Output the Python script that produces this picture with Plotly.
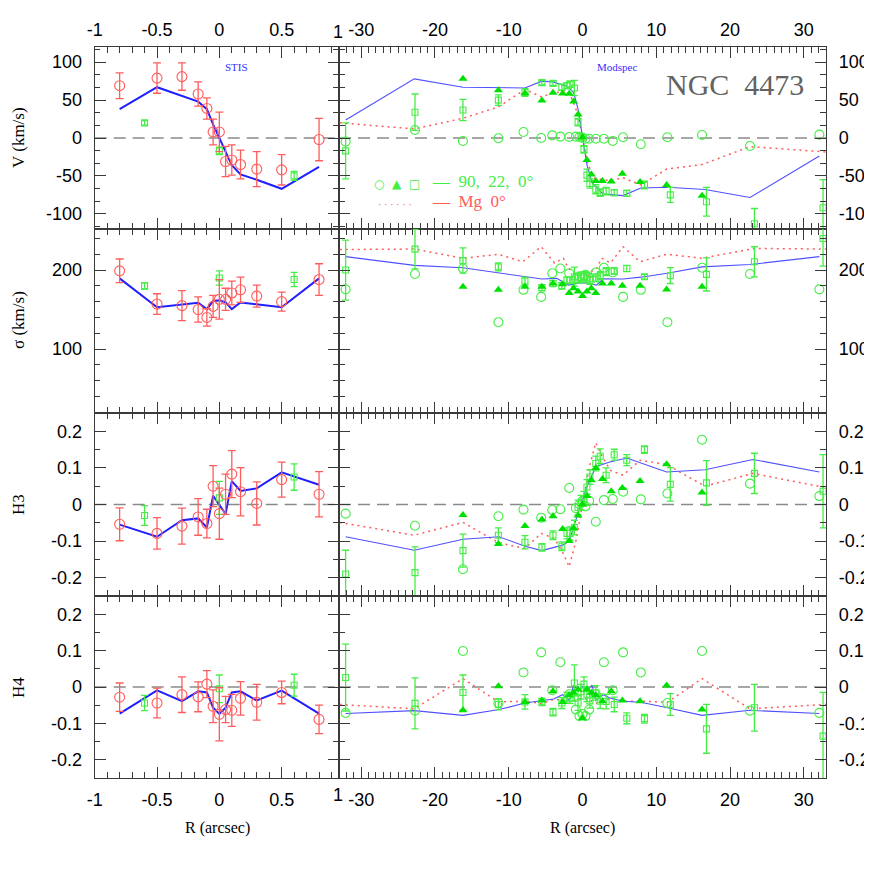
import plotly.graph_objects as go

# ---------------- STIS data (left panels) ----------------
stis_r = [-0.8, -0.5, -0.3, -0.17, -0.1, -0.05, 0.0, 0.05, 0.1, 0.17, 0.3, 0.5, 0.8]
stis_v = [69, 79, 81, 58, 39, 8, 8, -31, -29, -35, -41, -42, -2]
stis_v_err = [17, 20, 18, 16, 14, 17, 26, 20, 20, 19, 23, 20, 28]
stis_s = [199, 157, 155, 150, 140, 154, 163, 163, 171, 175, 167, 160, 188]
stis_s_err = [15, 13, 19, 16, 11, 14, 25, 14, 15, 16, 14, 12, 20]
stis_h3 = [-0.054, -0.079, -0.059, -0.034, -0.052, 0.050, -0.025, 0.028, 0.083, 0.035, 0.003, 0.068, 0.028]
stis_h3_err = [0.045, 0.043, 0.049, 0.050, 0.039, 0.056, 0.070, 0.055, 0.064, 0.066, 0.059, 0.048, 0.062]
stis_h4 = [-0.028, -0.044, -0.021, -0.027, 0.008, -0.053, -0.075, -0.062, -0.064, -0.031, -0.042, -0.015, -0.089]
stis_h4_err = [0.039, 0.041, 0.049, 0.041, 0.037, 0.045, 0.073, 0.036, 0.044, 0.046, 0.049, 0.031, 0.039]

# ground-based points inside the STIS window
gb_r = [-0.6, 0.0, 0.6]
gb_v = [20, -17, -50]
gb_v_err = [3, 5, 6]
gb_s = [180, 190, 188]
gb_s_err = [4, 9, 9]
gb_h3 = [-0.030, 0.018, 0.075]
gb_h3_err = [0.027, 0.045, 0.036]
gb_h4 = [-0.044, -0.005, 0.005]
gb_h4_err = [0.021, 0.038, 0.030]

# model fits (left panels)
mod_l_r_v = [-0.8, -0.5, -0.17, -0.1, -0.05, 0.0, 0.05, 0.1, 0.17, 0.3, 0.5, 0.8]
mod_l_v = [38, 67, 48, 38, 18, 0, -20, -36, -48, -55, -67, -38]
mod_l_r_s = [-0.8, -0.5, -0.17, -0.1, -0.05, 0.0, 0.05, 0.1, 0.17, 0.3, 0.5, 0.8]
mod_l_s = [189.5, 153, 158.6, 150.6, 160.8, 161.6, 159, 150.6, 159, 157, 153, 189.5]
mod_l_r_h3 = [-0.8, -0.5, -0.3, -0.17, -0.1, -0.05, 0.05, 0.1, 0.17, 0.3, 0.5, 0.8]
mod_l_h3 = [-0.055, -0.088, -0.043, -0.038, -0.063, 0.024, -0.026, 0.064, 0.037, 0.044, 0.088, 0.054]
mod_l_r_h4 = [-0.8, -0.5, -0.3, -0.17, -0.1, -0.05, 0.0, 0.05, 0.1, 0.17, 0.3, 0.5, 0.8]
mod_l_h4 = [-0.073, -0.009, -0.039, -0.012, -0.015, -0.057, -0.074, -0.057, -0.015, -0.012, -0.037, -0.010, -0.073]

# ---------------- Modspec data (right panels) ----------------
# 90 deg (open circles)
pa90_r = [-32.1, -22.7, -16.2, -11.4, -8.0, -5.6, -4.1, -3.0, -1.8, -0.9, -0.4, 0.0, 0.4, 0.9, 1.8, 2.9, 4.1, 5.5, 7.9, 11.5, 16.2, 22.7, 32.1]
pa90_v = [-4.8, 10.5, -4, -0.4, 7.9, 0, 3.5, 1.8, 1.3, 1.8, 1.5, 0, -1, -1, -1, -1, -4, 1, -8.3, 1, 4, -10.5, 4.4]
pa90_s = [175.5, 195, 202, 134, 175, 166, 196, 202, 196, 188, 192, 190, 194, 190, 197, 203, 197, 166, 175, 134, 203, 195, 175.5]
pa90_h3 = [-0.025, -0.058, -0.177, -0.032, -0.014, -0.036, -0.015, -0.013, 0.045, -0.010, 0.0, 0.010, -0.005, 0.010, -0.047, 0.012, 0.015, 0.035, 0.014, 0.030, 0.177, 0.057, 0.023]
pa90_h4 = [-0.071, -0.065, 0.099, -0.044, 0.040, 0.095, -0.009, 0.068, -0.020, -0.062, -0.080, -0.074, -0.080, -0.062, -0.020, 0.068, -0.009, 0.095, 0.040, -0.044, 0.099, -0.065, -0.071]

# 22 deg (filled triangles)
pa22_r = [-16.2, -11.4, -7.8, -5.5, -4.0, -2.7, -1.8, -1.2, -0.6, 0.0, 0.6, 1.2, 1.8, 2.7, 3.9, 5.4, 7.8, 11.4, 16.2]
pa22_v = [78, 63, 59, 49.6, 59.6, 58.8, 58.3, 48, 31, 1, -29, -48, -56.6, -56.6, -57.5, -47, -58, -62, -76]
pa22_s = [179, 175, 179, 179, 183, 182, 171, 177, 173, 167, 173, 177, 171, 183, 183, 180, 180, 175.5, 179]
pa22_h3 = [-0.029, -0.108, -0.059, -0.041, -0.032, -0.067, -0.100, -0.064, -0.030, 0.0, 0.023, 0.066, 0.100, 0.070, 0.036, 0.045, 0.064, 0.110, 0.033]
pa22_h4 = [-0.064, 0.002, -0.041, -0.037, -0.012, -0.041, -0.023, -0.016, -0.007, -0.085, -0.007, -0.016, -0.023, -0.039, -0.012, -0.037, -0.039, 0.004, -0.062]

# 0 deg (open squares with errors)
pa0_r = [-32.1, -22.7, -16.2, -11.4, -7.8, -5.5, -4.0, -2.8, -2.1, -1.7, -1.1, -0.6, -0.2, 0.2, 0.6, 1.0, 1.8, 2.4, 3.2, 4.3, 6.0, 8.4, 11.9, 16.8, 23.3, 32.6]
pa0_v = [-17, 34, 37, 50, 60, 73, 72, 67, 69, 71, 66, 21, 2, -15, -49, -60, -67.5, -72, -70, -72, -73, -62, -75, -84, -113, -92]
pa0_v_err = [37, 24, 14, 7, 5, 3, 3, 4, 4, 4, 10, 5, 4, 5, 8, 6, 6, 5, 5, 4, 4, 5, 10, 19, 20, 37]
pa0_s = [200, 226.5, 212, 204, 186, 177.6, 183, 180, 187, 187, 191.6, 190, 190, 192, 191, 187, 190, 193, 198, 199, 202, 191.6, 193, 194.5, 210.5, 240]
pa0_s_err = [38, 25, 16, 5, 5, 4, 4, 4, 4, 4, 12, 6, 6, 6, 6, 5, 5, 5, 5, 4, 4, 3, 10, 21, 19, 35]
pa0_h3 = [-0.190, -0.186, -0.126, -0.084, -0.103, -0.117, -0.084, -0.114, -0.079, -0.079, -0.063, -0.008, 0.005, 0.016, 0.048, 0.075, 0.112, 0.132, 0.080, 0.136, 0.121, 0.150, 0.055, 0.059, 0.085, 0.036]
pa0_h3_err = [0.065, 0.070, 0.045, 0.020, 0.018, 0.010, 0.012, 0.012, 0.015, 0.018, 0.020, 0.020, 0.020, 0.020, 0.020, 0.020, 0.020, 0.020, 0.020, 0.015, 0.015, 0.010, 0.046, 0.061, 0.055, 0.100]
pa0_h4 = [0.026, -0.045, -0.015, -0.048, -0.041, -0.041, -0.069, -0.044, -0.030, -0.030, 0.011, -0.044, -0.013, 0.008, -0.020, -0.038, -0.016, -0.039, -0.040, -0.048, -0.086, -0.087, -0.048, -0.115, -0.057, -0.135]
pa0_h4_err = [0.092, 0.070, 0.048, 0.015, 0.020, 0.010, 0.010, 0.015, 0.015, 0.015, 0.050, 0.020, 0.020, 0.020, 0.020, 0.020, 0.020, 0.020, 0.020, 0.020, 0.015, 0.012, 0.030, 0.067, 0.064, 0.120]

# model fits (right panels)
mod_r_r_v = [-32.1, -22.8, -16.2, -7.8, -5.5, -4.0, -2.1, -1.2, -0.6, -0.3, 0.0, 0.3, 0.6, 1.3, 2.4, 2.8, 5.5, 7.9, 11.5, 16.6, 22.7, 32.1]
mod_r_v = [23.7, 78, 67, 66, 75, 74, 68, 60, 38, 20, 3, -15, -35, -59, -70, -74, -76, -66, -65, -68, -78.5, -23.7]
mod_r_r_s = [-32.1, -22.8, -16.2, -5.5, -3.5, -1.9, -0.8, 0.0, 0.8, 1.9, 2.8, 5.5, 7.9, 11.5, 16.2, 22.7, 32.1]
mod_r_s = [217, 206, 203, 188.6, 189.5, 181, 183, 184, 183, 181, 189, 188.6, 191, 196, 204, 207, 217]
mod_r_r_h3 = [-32.1, -22.8, -16.2, -11.3, -7.8, -5.5, -2.7, -1.8, -0.6, 0.0, 0.6, 1.8, 3.7, 6.0, 11.4, 16.6, 23.1, 32.1]
mod_r_h3 = [-0.088, -0.125, -0.095, -0.088, -0.114, -0.126, -0.111, -0.100, -0.023, 0.014, 0.048, 0.103, 0.116, 0.127, 0.089, 0.095, 0.123, 0.089]
mod_r_r_h4 = [-32.1, -22.8, -16.2, -11.3, -7.8, -3.9, -2.7, -1.8, -1.2, -0.6, 0.0, 0.6, 1.3, 1.8, 2.8, 3.7, 5.5, 7.9, 11.5, 16.2, 22.7, 32.1]
mod_r_h4 = [-0.073, -0.065, -0.078, -0.062, -0.044, -0.033, -0.021, -0.037, 0.005, -0.010, 0.002, -0.010, 0.005, -0.037, -0.021, -0.030, -0.039, -0.042, -0.057, -0.078, -0.064, -0.073]

# Mg 0 deg (red dotted)
mg_r_v = [-32.9, -22.8, -16.2, -11.4, -7.8, -5.5, -4.0, -1.8, -0.6, 0.0, 0.6, 1.3, 1.7, 3.9, 5.4, 7.9, 11.4, 16.2, 22.7, 33.0]
mg_v = [20, 12, 26, 41, 64, 54, 60, 60.5, 31, 2, -30, -48, -53.5, -56.6, -52, -62, -41, -35, -11.4, -18.4]
mg_r_s = [-32.9, -22.8, -16.2, -11.4, -8.1, -5.6, -3.8, -2.6, -1.9, -1.2, -0.6, 0.0, 0.6, 1.2, 1.9, 2.6, 3.8, 5.5, 7.8, 11.4, 16.2, 23.3, 33.0]
mg_s = [226, 226.6, 214.8, 220, 210.5, 229.5, 209, 215, 202, 198, 190, 188, 190, 198, 202, 215, 209, 229.5, 210.5, 220, 215, 227.4, 226.6]
mg_r_h3 = [-32.9, -22.8, -16.2, -11.3, -7.8, -5.6, -3.8, -2.7, -1.8, -0.9, 0.0, 0.9, 1.8, 2.7, 3.8, 5.5, 7.8, 11.4, 16.6, 23.1, 33.0]
mg_h3 = [-0.049, -0.084, -0.049, -0.105, -0.120, -0.079, -0.093, -0.130, -0.170, -0.100, 0.0, 0.100, 0.169, 0.130, 0.093, 0.080, 0.121, 0.109, 0.050, 0.085, 0.046]
mg_r_h4 = [-32.9, -22.8, -16.2, -11.4, -7.8, -5.5, -3.8, -2.7, -1.8, -0.9, 0.0, 0.9, 1.8, 2.7, 3.8, 5.5, 7.9, 11.5, 16.2, 22.7, 33.0]
mg_h4 = [-0.048, -0.060, 0.023, -0.041, -0.039, -0.046, -0.033, -0.037, -0.045, -0.035, -0.030, -0.035, -0.045, -0.037, -0.033, -0.039, -0.039, -0.042, 0.023, -0.060, -0.048]

# axis tick labels
left_r_ticks = [-1, -0.5, 0, 0.5]
left_r_edge_label = "1"
right_r_ticks = [-30, -20, -10, 0, 10, 20, 30]
v_ticks = [-100, -50, 0, 50, 100]
s_ticks = [100, 200]
h_ticks = [-0.2, -0.1, 0, 0.1, 0.2]

# ---------------- styling ----------------
OFF = 8            # page body margin in the browser
W = H = 872 - OFF
RED = "#ff5c5c"
GREEN = "#45ee45"
GREEN_FILL = "#00e000"
BLUE = "#1f1fff"
BLUE_THIN = "#5050ff"
FRAME = "#3a3a3a"
SANS = "Liberation Sans, Arial, sans-serif"
SERIF = "Liberation Serif, Times New Roman, serif"
CLEAR = "rgba(0,0,0,0)"
TICKSIZE = 18
LEFT_RANGE = [-1.0, 0.96]

def px(x):
    return (x - OFF) / W

def py(y):
    return 1 - (y - OFF) / H

XL = [px(94.7), px(339)]
XR = [px(339), px(826)]
ROWS = [(47, 229), (229, 413), (413, 596), (596, 778)]
YR = [[-120, 120], [19, 252], [-0.25, 0.25], [-0.25, 0.25]]
YMIN = [50 / 3, 20, 0.05, 0.05]

fig = go.Figure()

def ax_id(r, c):
    return r * 2 + c + 1

def ref(i):
    return ("x" if i == 1 else f"x{i}"), ("y" if i == 1 else f"y{i}")

def add_err(i, xs, ys, es, color, symbol, size, capw=3.5):
    xr, yr = ref(i)
    fig.add_trace(go.Scatter(
        x=xs, y=ys, xaxis=xr, yaxis=yr, mode="markers",
        marker=dict(symbol=symbol, size=size, color=CLEAR,
                    line=dict(color=color, width=1.1)),
        error_y=dict(type="data", array=es, visible=True, color=color,
                     thickness=1.3, width=capw),
        showlegend=False, hoverinfo="skip"))

def add_pts(i, xs, ys, color, symbol, size, filled=False):
    xr, yr = ref(i)
    fig.add_trace(go.Scatter(
        x=xs, y=ys, xaxis=xr, yaxis=yr, mode="markers",
        marker=dict(symbol=symbol, size=size,
                    color=color if filled else CLEAR,
                    line=dict(color=color, width=0 if filled else 1.1)),
        showlegend=False, hoverinfo="skip"))

def add_line(i, xs, ys, color, width, dash="solid"):
    xr, yr = ref(i)
    fig.add_trace(go.Scatter(
        x=xs, y=ys, xaxis=xr, yaxis=yr, mode="lines",
        line=dict(color=color, width=width, dash=dash),
        showlegend=False, hoverinfo="skip"))

left_sets = [
    (stis_v, stis_v_err, gb_v, gb_v_err, mod_l_r_v, mod_l_v),
    (stis_s, stis_s_err, gb_s, gb_s_err, mod_l_r_s, mod_l_s),
    (stis_h3, stis_h3_err, gb_h3, gb_h3_err, mod_l_r_h3, mod_l_h3),
    (stis_h4, stis_h4_err, gb_h4, gb_h4_err, mod_l_r_h4, mod_l_h4),
]
right_sets = [
    (pa90_v, pa22_v, pa0_v, pa0_v_err, mod_r_r_v, mod_r_v, mg_r_v, mg_v),
    (pa90_s, pa22_s, pa0_s, pa0_s_err, mod_r_r_s, mod_r_s, mg_r_s, mg_s),
    (pa90_h3, pa22_h3, pa0_h3, pa0_h3_err, mod_r_r_h3, mod_r_h3, mg_r_h3, mg_h3),
    (pa90_h4, pa22_h4, pa0_h4, pa0_h4_err, mod_r_r_h4, mod_r_h4, mg_r_h4, mg_h4),
]

for r in range(4):
    i = ax_id(r, 0)
    sv, se, gv, ge, mr, mv = left_sets[r]
    add_line(i, mr, mv, BLUE, 2.0)
    add_err(i, gb_r, gv, ge, GREEN, "square", 6)
    add_err(i, stis_r, sv, se, RED, "circle", 10, capw=4)
    i = ax_id(r, 1)
    c90, c22, c0, e0, mr, mv, gr, gm = right_sets[r]
    add_line(i, gr, gm, RED, 1.5, "2px,4px")
    add_line(i, mr, mv, BLUE_THIN, 1.1)
    add_err(i, pa0_r, c0, e0, GREEN, "square", 6)
    add_pts(i, pa90_r, c90, GREEN, "circle", 9)
    add_pts(i, pa22_r, c22, GREEN_FILL, "triangle-up", 8, filled=True)

layout = dict(width=W, height=H,
              margin=dict(l=0, r=0, t=0, b=0, autoexpand=False),
              paper_bgcolor="white", plot_bgcolor="white", showlegend=False,
              font=dict(family=SANS, size=TICKSIZE, color="black"))

shapes = []
ann = []
for r in range(4):
    top, bot = ROWS[r]
    ydom = [py(bot), py(top)]
    for c in range(2):
        i = ax_id(r, c)
        xname = "xaxis" if i == 1 else f"xaxis{i}"
        yname = "yaxis" if i == 1 else f"yaxis{i}"
        xr, yr = ref(i)
        if c == 0:
            xrange, xmin = LEFT_RANGE, 0.1
            tickvals_x = left_r_ticks
        else:
            xrange, xmin = [-33, 33], 1
            tickvals_x = right_r_ticks
        ticktext_x = [f"{v:g}" for v in tickvals_x]
        show_x = r in (0, 3)
        layout[xname] = dict(
            domain=XL if c == 0 else XR, range=xrange, anchor=yr,
            side="top" if r == 0 else "bottom",
            tickmode="array", tickvals=tickvals_x, ticktext=ticktext_x,
            showticklabels=show_x, ticks="inside", ticklen=11, tickwidth=1.2,
            ticklabelstandoff=3 if r == 0 else 5,
            tickcolor=FRAME, showline=True, linecolor=FRAME, linewidth=1.3,
            mirror="allticks", showgrid=False, zeroline=False, automargin=False,
            minor=dict(ticks="inside", dtick=xmin, tick0=0, ticklen=5.5,
                       tickwidth=1.0, tickcolor=FRAME, showgrid=False),
            tickfont=dict(family=SANS, size=TICKSIZE), fixedrange=True)
        # the "1" label of the STIS axis, drawn at the panel's right edge
        if c == 0 and show_x:
            ann.append(dict(text=left_r_edge_label, x=0.995, y=1 if r == 0 else 0,
                            xref=f"{xr} domain", yref=f"{yr} domain", showarrow=False,
                            xanchor="center", yanchor="bottom" if r == 0 else "top",
                            yshift=3 if r == 0 else -5,
                            font=dict(family=SANS, size=TICKSIZE, color="black")))
        tv = v_ticks if r == 0 else (s_ticks if r == 1 else h_ticks)
        tt = [f"{v:g}" for v in tv]
        layout[yname] = dict(
            domain=ydom, range=YR[r], anchor=xr,
            side="left" if c == 0 else "right",
            tickmode="array", tickvals=tv, ticktext=tt,
            showticklabels=True, ticks="inside", ticklen=11, tickwidth=1.2,
            ticklabelstandoff=8,
            tickcolor=FRAME, showline=True, linecolor=FRAME, linewidth=1.3,
            mirror="allticks", showgrid=False, zeroline=False, automargin=False,
            minor=dict(ticks="inside", dtick=YMIN[r], tick0=0, ticklen=5.5,
                       tickwidth=1.0, tickcolor=FRAME, showgrid=False),
            tickfont=dict(family=SANS, size=TICKSIZE), fixedrange=True)
        if r != 1:
            shapes.append(dict(type="line", xref=f"{xr} domain", yref=yr,
                               x0=0, x1=1, y0=0, y1=0, layer="below",
                               line=dict(color="#8a8a8a", width=1.6, dash="12px,7px")))

layout["shapes"] = shapes

def A(text, x, y, size, color="black", family=SERIF, angle=0, xanchor="center"):
    ann.append(dict(text=text, x=px(x), y=py(y), xref="paper", yref="paper",
                    showarrow=False, textangle=angle, xanchor=xanchor, yanchor="middle",
                    font=dict(family=family, size=size, color=color)))

A("V (km/s)", 18, 138, 17, angle=-90)
A("σ (km/s)", 18, 320, 17, angle=-90)
A("H3", 18, 505, 17, angle=-90)
A("H4", 18, 688, 17, angle=-90)
A("R (arcsec)", 217, 828, 16)
A("R (arcsec)", 582, 828, 16)
A("NGC  4473", 735, 84, 30, color="#636363")
A("STIS", 236, 67, 11, color="#3030ff")
A("Modspec", 617, 67, 11, color="#3030ff")
A("○  ▲  □", 397, 184, 12, color=GREEN, family="DejaVu Sans")
A("—  90,  22,  0°", 430, 182, 17, color=GREEN, xanchor="left")
A("· · · · · ·", 395, 204, 10, color=RED, family=SANS)
A("—  Mg  0°", 430, 202, 17, color=RED, xanchor="left")
layout["annotations"] = ann

fig.update_layout(**layout)
fig.write_html("out.html")
